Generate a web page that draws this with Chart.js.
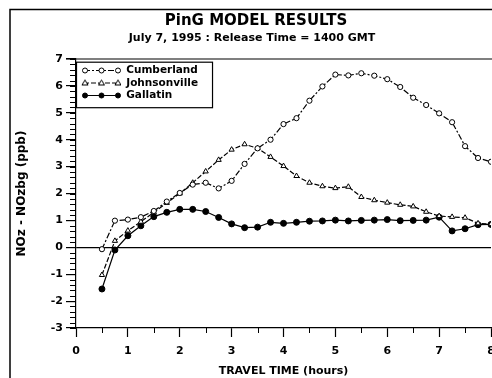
<!DOCTYPE html>
<html>
<head>
<meta charset="utf-8">
<script src="https://cdn.jsdelivr.net/npm/chart.js@4/dist/chart.umd.min.js"></script>
<style>
  html, body { margin: 0; padding: 0; background: #fff; overflow: hidden; }
  #wrap { position: relative; width: 492px; height: 378px; overflow: hidden; }
</style>
</head>
<body>
<div id="wrap"><canvas id="ping" width="508" height="378"></canvas></div>
<script>
// travel time (hours) for every model output
const hours = [0.5, 0.75, 1, 1.25, 1.5, 1.75, 2, 2.25, 2.5, 2.75, 3, 3.25, 3.5, 3.75, 4, 4.25,
  4.5, 4.75, 5, 5.25, 5.5, 5.75, 6, 6.25, 6.5, 6.75, 7, 7.25, 7.5, 7.75, 8];

// NOz - NOzbg (ppb)
const cumberland = [-0.07, 0.99, 1.03, 1.12, 1.35, 1.7, 2.02, 2.33, 2.4, 2.19, 2.47, 3.1, 3.68, 4.0, 4.58, 4.8,
  5.45, 5.98, 6.42, 6.39, 6.47, 6.38, 6.25, 5.96, 5.56, 5.29, 4.98, 4.65, 3.76, 3.32, 3.18];
const johnsonville = [-1.03, 0.24, 0.62, 0.95, 1.3, 1.65, 2.0, 2.4, 2.82, 3.25, 3.63, 3.83, 3.68, 3.36, 3.02, 2.65,
  2.4, 2.27, 2.2, 2.25, 1.87, 1.75, 1.66, 1.58, 1.52, 1.32, 1.16, 1.13, 1.1, 0.89, 0.86];
const gallatin = [-1.55, -0.1, 0.43, 0.8, 1.14, 1.3, 1.41, 1.41, 1.33, 1.11, 0.87, 0.73, 0.75, 0.93, 0.89, 0.93,
  0.97, 0.98, 1.01, 0.98, 1.0, 1.01, 1.03, 0.99, 1.0, 1.01, 1.12, 0.61, 0.69, 0.84, 0.85];

const seriesNames = ['Cumberland', 'Johnsonville', 'Gallatin'];
const seriesValues = [cumberland, johnsonville, gallatin];

const FONT = '"DejaVu Sans", "Liberation Sans", sans-serif';
const dashes = [[6, 2, 2, 2], [5, 2], []];
const markers = ['circle', 'triangle', 'circle'];
const markerFill = ['#fff', '#fff', '#000'];
const markerSize = [2.6, 3, 3];

// small line+marker sample used as legend symbol
function legendIcon(i) {
  const c = document.createElement('canvas');
  c.width = 43; c.height = 9;
  const g = c.getContext('2d');
  g.strokeStyle = '#000';
  g.lineWidth = 1.2;
  g.setLineDash(dashes[i]);
  g.beginPath(); g.moveTo(6, 4.5); g.lineTo(41, 4.5); g.stroke();
  g.setLineDash([]);
  g.lineWidth = 1;
  [7, 23.5, 40].forEach(px => {
    g.fillStyle = markerFill[i];
    g.beginPath();
    if (markers[i] === 'triangle') {
      g.moveTo(px, 1.5); g.lineTo(px + 3, 6.5); g.lineTo(px - 3, 6.5); g.closePath();
    } else {
      g.arc(px, 4.5, 2.5, 0, Math.PI * 2);
    }
    g.fill(); g.stroke();
  });
  return c;
}

const decorations = {
  id: 'decorations',
  afterDraw(chart) {
    const { ctx, chartArea: a, scales: { x, y } } = chart;
    ctx.save();
    ctx.strokeStyle = '#000';
    ctx.fillStyle = '#000';

    // page frame
    ctx.lineWidth = 1.5;
    ctx.beginPath();
    ctx.moveTo(10, 378); ctx.lineTo(10, 9.5); ctx.lineTo(500, 9.5);
    ctx.stroke();

    // top edge of the plot box
    ctx.lineWidth = 1.2;
    ctx.beginPath(); ctx.moveTo(a.left - 10, a.top); ctx.lineTo(a.right + 5, a.top); ctx.stroke();

    // minor ticks
    ctx.lineWidth = 1;
    ctx.beginPath();
    for (let k = 0; k <= 50; k++) {
      const py = Math.round(y.getPixelForValue(-3 + k * 0.2)) + 0.5;
      ctx.moveTo(a.left - 6, py); ctx.lineTo(a.left, py);
    }
    for (let k = 0; k < 8; k++) {
      const px = Math.round(x.getPixelForValue(k + 0.5)) + 0.5;
      ctx.moveTo(px, a.bottom); ctx.lineTo(px, a.bottom + 5);
    }
    ctx.stroke();

    // titles
    ctx.textAlign = 'center';
    ctx.textBaseline = 'middle';
    ctx.font = 'bold 15px ' + FONT;
    ctx.fillText('PinG MODEL RESULTS', 256, 21);
    ctx.font = 'bold 11px ' + FONT;
    ctx.fillText('July 7, 1995 : Release Time = 1400 GMT', 252, 38);

    // legend frame
    const hb = chart.legend.legendHitBoxes;
    if (hb && hb.length) {
      const right = Math.max(...hb.map(b => b.left + b.width)) + 14;
      const first = hb[0];
      const last = hb[hb.length - 1];
      const top = first.top - 3;
      ctx.lineWidth = 1.2;
      ctx.strokeRect(a.left + 0.5, top, right - a.left, last.top + last.height + 7 - top);
    }
    ctx.restore();
  }
};

new Chart(document.getElementById('ping'), {
  type: 'line',
  data: {
    datasets: seriesNames.map((name, i) => ({
      label: name,
      data: hours.map((h, j) => ({ x: h, y: seriesValues[i][j] })),
      borderColor: '#000',
      borderWidth: 1.2,
      borderDash: dashes[i],
      tension: 0,
      pointStyle: markers[i],
      pointRadius: markerSize[i],
      pointBackgroundColor: markerFill[i],
      pointBorderColor: '#000',
      pointBorderWidth: 1
    }))
  },
  options: {
    responsive: false,
    animation: false,
    devicePixelRatio: 1,
    layout: { padding: { top: 59, right: 17, left: 0, bottom: 0 } },
    scales: {
      x: {
        type: 'linear',
        min: 0,
        max: 8,
        afterFit: s => { s.height = 50; },
        ticks: { stepSize: 1, color: '#000', padding: 8, font: { family: FONT, size: 11, weight: 'bold' } },
        grid: { drawOnChartArea: false, tickLength: 9, tickColor: '#000', tickWidth: 1.2 },
        border: { color: '#000', width: 1.2 },
        title: { display: true, text: 'TRAVEL TIME (hours)', color: '#000',
          font: { family: FONT, size: 11, weight: 'bold' }, padding: { top: 0, bottom: 0 } }
      },
      y: {
        min: -3,
        max: 7,
        afterFit: s => { s.width = 76; },
        ticks: { stepSize: 1, color: '#000', padding: 3, font: { family: FONT, size: 11, weight: 'bold' } },
        grid: {
          color: c => (c.tick && c.tick.value === 0 ? '#000' : 'rgba(0,0,0,0)'),
          lineWidth: 1.2,
          tickLength: 10,
          tickColor: '#000',
          tickWidth: 1.2
        },
        border: { color: '#000', width: 1.2 },
        title: { display: true, text: 'NOz - NOzbg (ppb)', color: '#000',
          font: { family: FONT, size: 12, weight: 'bold' }, padding: { top: 15, bottom: 0 } }
      }
    },
    plugins: {
      title: { display: false },
      tooltip: { enabled: false },
      legend: {
        position: 'chartArea',
        align: 'start',
        // vertical chartArea legends start at y = 0, push the rows down into the plot box
        title: { display: true, text: '', padding: { top: 62, bottom: 0 }, font: { size: 1 } },
        labels: {
          usePointStyle: true,
          pointStyleWidth: 43,
          boxHeight: 9,
          padding: 2,
          color: '#000',
          font: { family: FONT, size: 10.5, weight: 'bold' },
          generateLabels: chart => chart.data.datasets.map((ds, i) => ({
            text: ds.label,
            fontColor: '#000',
            pointStyle: legendIcon(i),
            fillStyle: '#fff',
            strokeStyle: '#000',
            lineWidth: 0,
            hidden: false,
            datasetIndex: i
          }))
        }
      }
    }
  },
  plugins: [decorations]
});
</script>
</body>
</html>
